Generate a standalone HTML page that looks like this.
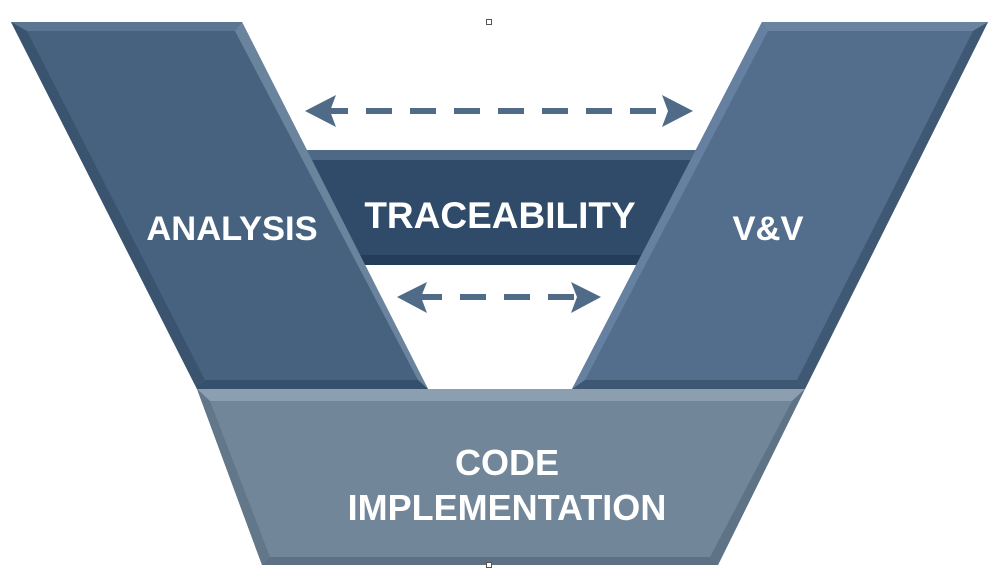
<!DOCTYPE html>
<html><head><style>body{margin:0;background:#fff}svg{display:block}</style></head><body>
<svg width="994" height="576" viewBox="0 0 994 576" xmlns="http://www.w3.org/2000/svg" font-family="Liberation Sans, sans-serif" font-weight="bold">
<polygon points="290,150 710,150 710,265 290,265" fill="#2f4b69"/>
<polygon points="290,150 710,150 710,160 290,160" fill="#4d6985"/>
<polygon points="290,255 710,255 710,265 290,265" fill="#243d58"/>
<polygon points="11,22 242,22 428,389 197,389" fill="#46627f"/>
<polygon points="11,22 242,22 235,31 27,31" fill="#5b7693"/>
<polygon points="242,22 428,389 418,380 235,31" fill="#6b849e"/>
<polygon points="11,22 27,31 205,380 197,389" fill="#3a5470"/>
<polygon points="197,389 428,389 418,380 205,380" fill="#34506c"/>
<polygon points="762,22 988,22 805,389 572,389" fill="#526e8c"/>
<polygon points="762,22 988,22 973,31 768,31" fill="#6a84a0"/>
<polygon points="762,22 768,31 585,380 572,389" fill="#6580a0"/>
<polygon points="988,22 805,389 797,380 973,31" fill="#3f5975"/>
<polygon points="572,389 805,389 797,380 585,380" fill="#3e5874"/>
<polygon points="197,389 805,389 718,565 262,565" fill="#72869a"/>
<polygon points="197,389 805,389 792,401 210,401" fill="#8c9fb1"/>
<polygon points="197,389 210,401 270,557 262,565" fill="#627789"/>
<polygon points="805,389 718,565 710,557 792,401" fill="#5f7386"/>
<polygon points="262,565 718,565 710,557 270,557" fill="#5d7185"/>
<g stroke="#4f6b88" stroke-width="6" stroke-dasharray="26 18">
<line x1="322" y1="111" x2="676" y2="111"/>
<line x1="416" y1="297" x2="584" y2="297"/>
</g>
<g fill="#4f6b88">
<polygon points="305,111 336,95 330,111 336,127"/>
<polygon points="693,111 662,95 668,111 662,127"/>
<polygon points="397,297 427,282 421,297 427,313"/>
<polygon points="601,297 571,282 577,297 571,313"/>
</g>
<g fill="#fff" text-anchor="middle">
<text x="232" y="240" font-size="34.5">ANALYSIS</text>
<text x="500" y="228" font-size="37">TRACEABILITY</text>
<text x="768" y="240" font-size="34.5">V&amp;V</text>
<text x="507" y="475" font-size="36">CODE</text>
<text x="507" y="520" font-size="36">IMPLEMENTATION</text>
</g>
<rect x="486.5" y="19.5" width="5" height="5" fill="#fff" stroke="#555" stroke-width="1"/>
<rect x="486.5" y="562.5" width="5" height="5" fill="#fff" stroke="#555" stroke-width="1"/>
</svg>
</body></html>
